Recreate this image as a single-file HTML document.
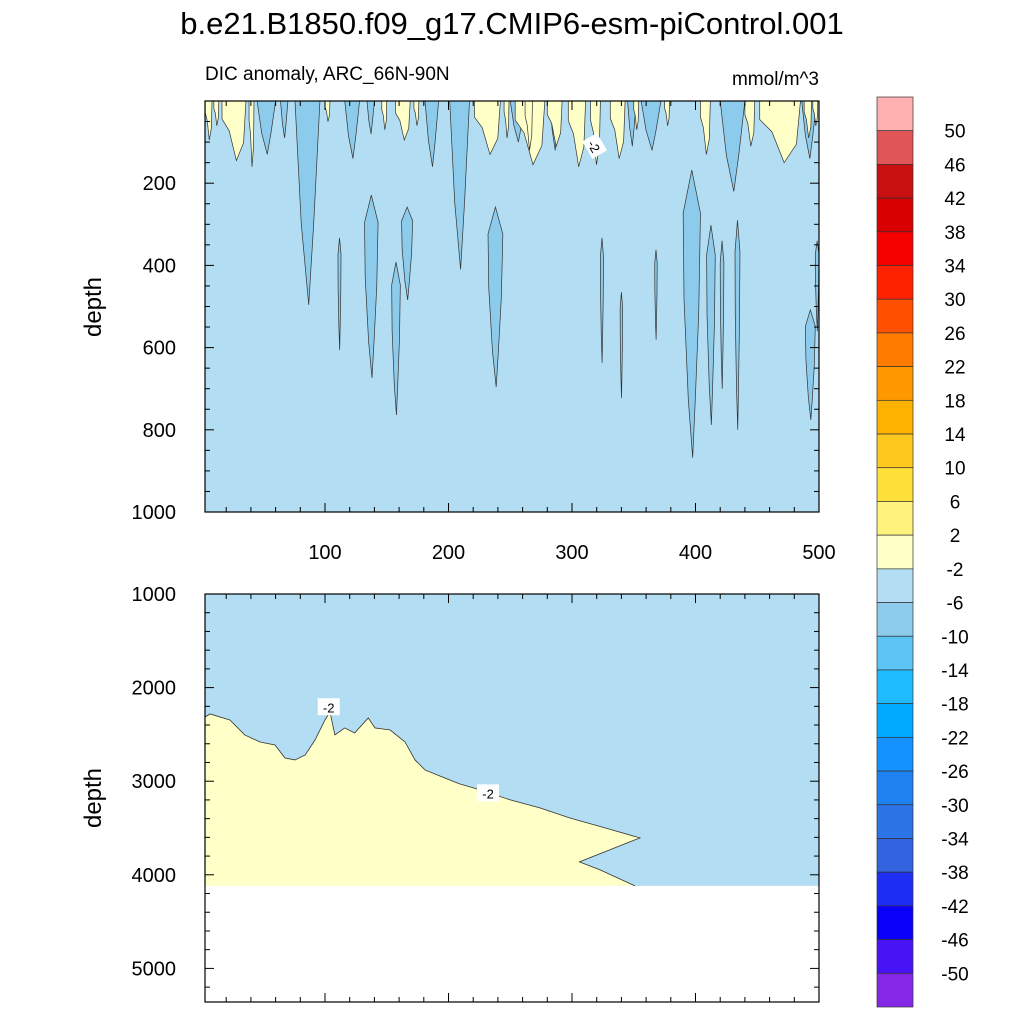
<!DOCTYPE html>
<html><head><meta charset="utf-8"><style>
body{margin:0;background:#fff;}
svg text{font-family:"Liberation Sans",sans-serif;fill:#000;}
</style></head><body>
<svg id="c" width="1024" height="1024" xmlns="http://www.w3.org/2000/svg">
<text x="512" y="34" font-size="31" text-anchor="middle">b.e21.B1850.f09_g17.CMIP6-esm-piControl.001</text>
<text x="205" y="80" font-size="19">DIC anomaly, ARC_66N-90N</text>
<text x="819" y="85" font-size="19" text-anchor="end">mmol/m^3</text>
<text transform="translate(101,307) rotate(-90)" font-size="24" text-anchor="middle">depth</text>
<text transform="translate(101,798) rotate(-90)" font-size="24" text-anchor="middle">depth</text>
<g id="topPanel"></g><g id="botPanel"></g><g id="cb"></g>
</svg>
<script>
// ---- data ----
const cbLevels=[50,46,42,38,34,30,26,22,18,14,10,6,2,-2,-6,-10,-14,-18,-22,-26,-30,-34,-38,-42,-46,-50];
const cbColors=["#ffb1b1","#e05656","#c81010","#d80000","#f70000","#ff2200","#ff5000","#ff7c00","#ff9800","#ffb200","#ffc81e","#ffe03a","#fff27c","#ffffc8","#b3ddf2","#8ccbeb","#5cc3f5","#1ebcff","#00aaff","#1492ff","#1e82f0","#2d74e6","#3364e0","#1e2ef4","#0a00fa","#4814f5","#8428e6"];
const topXTicks=[100,200,300,400,500];
const topYTicks=[200,400,600,800,1000];
const botYTicks=[1000,2000,3000,4000,5000];
// yellow spikes [t0,t1,depthBottom]
const yellowSpikes=[[3,8.5,95],[16.6,36,145],[38.5,42.5,160],[157,169,95],[221,242,130],[254,278,155],[297,311,160],[315,323,155],[331,343,140],[404,412,130],[452,485,150],[440,448,110],[262,268,120],[280,292,110],[10,14,60],[100,104,50],[146,150,70],[172,176,60],[245,249,90],[350,354,70],[375,379,60],[488,494,90],[495,499,60]];
// darker blue spikes [t0,t1,depthTop,depthBottom]
const blueSpikes=[[75.7,95.9,0,496],[45,60,0,130],[116,128,0,140],[181,192,0,160],[201,217,0,410],[250,262,0,100],[282,290,0,120],[356,372,0,120],[420,440,0,220],[486,498,0,140],[64,70,0,90],[134,140,0,80],[345,352,0,110],[110.5,113,333,606],[132,143,229,674],[154,161,392,764],[162,171,258,484],[232,244,258,696],[323,325.5,333,637],[339,341,465,723],[367,369,362,581],[390,404,168,868],[409,416,302,788],[420,423,340,700],[432,436,290,800],[489,497,508,776],[497,500,340,560]];
// bottom panel yellow/blue boundary (time, depth)
const bndT=[2.8,6.9,23,35,47.4,59.5,67.6,75.7,84,91.9,100,104,108,116,124,135,140.5,152.6,164.8,172.9,181,193,209,225.7,250,274,298,326.7,355,306,322.7,351];
const bndD=[2314,2282,2346,2506,2581,2613,2752,2773,2720,2560,2346,2260,2506,2431,2485,2324,2431,2452,2581,2773,2880,2944,3029,3093,3200,3285,3392,3499,3606,3862,3947,4118];
const bottomDepth=4118;
// ---- axes ----
const X0=205,X1=819;
const sx=t=>201.5+t*1.235;
const syT=d=>101+d*0.411;
const syB=d=>594+(d-1000)*0.0936;
const NS="http://www.w3.org/2000/svg";
function el(p,tag,a){const e=document.createElementNS(NS,tag);for(const k in a)e.setAttribute(k,a[k]);p.appendChild(e);return e;}
const topG=document.getElementById('topPanel'),botG=document.getElementById('botPanel'),cbG=document.getElementById('cb');
const clip=el(document.getElementById('c'),'clipPath',{id:'tclip'});
el(clip,'rect',{x:X0,y:101,width:X1-X0,height:411});
// top panel
let r=el(topG,'rect',{x:X0,y:101,width:X1-X0,height:411,fill:"#b3ddf2"});


const inner=el(topG,'g',{'clip-path':'url(#tclip)'});
blueSpikes.forEach(s=>{const a=sx(s[0]),b=sx(s[1]),w=b-a,t=syT(s[2]),d=syT(s[3]);
 let pts;
 if(s[2]>0){const h=d-t;pts=[[a+w*0.5,t],[b,t+h*0.15],[b-w*0.1,t+h*0.5],[b-w*0.3,t+h*0.8],[a+w*0.55,d],[a+w*0.3,t+h*0.8],[a+w*0.05,t+h*0.45],[a,t+h*0.15]];}
 else pts=[[a,t],[b,t],[b-w*0.25,t+(d-t)*0.6],[a+w*0.55,d],[a+w*0.25,t+(d-t)*0.6]];
 const p=el(inner,'polygon',{points:pts.map(q=>q.join(',')).join(' '),fill:"#8ccbeb",stroke:"#333",'stroke-width':0.7});
 
 });
yellowSpikes.forEach(s=>{const a=sx(s[0]),b=sx(s[1]),w=b-a,d=syT(s[2]);
 const pts=[[a,101],[b,101],[b-w*0.1,101+(d-101)*0.7],[a+w*0.6,d],[a+w*0.3,101+(d-101)*0.5],[a,101+(d-101)*0.3]];
 const p=el(inner,'polygon',{points:pts.map(q=>q.join(',')).join(' '),fill:"#ffffc8",stroke:"#333",'stroke-width':0.7});
 
 });
let lb=el(topG,'g',{transform:`translate(${sx(318)},${syT(110)}) rotate(60)`});


el(lb,'rect',{x:-10,y:-9,width:20,height:17,fill:"#fff"});
let tt=el(lb,'text',{x:0,y:5,'font-size':13,'text-anchor':'middle'});tt.textContent='-2';
el(topG,'rect',{x:X0,y:101,width:X1-X0,height:411,fill:"none",stroke:"#000",'stroke-width':1.2});
for(let t=20;t<=500;t+=20){const x=sx(t),L=t%100?5:9;el(topG,'line',{x1:x,x2:x,y1:512,y2:512-L,stroke:"#000"});el(topG,'line',{x1:x,x2:x,y1:101,y2:101+L,stroke:"#000"});}
for(let d=50;d<=1000;d+=50){const y=syT(d),L=d%200?5:9;el(topG,'line',{x1:X0,x2:X0+L,y1:y,y2:y,stroke:"#000"});el(topG,'line',{x1:X1,x2:X1-L,y1:y,y2:y,stroke:"#000"});}
topXTicks.forEach(t=>{const e=el(topG,'text',{x:sx(t),y:559,'font-size':20,'text-anchor':'middle'});e.textContent=t;
 
 });
topYTicks.forEach(d=>{const e=el(topG,'text',{x:176,y:syT(d)+7,'font-size':20,'text-anchor':'end'});e.textContent=d;
 
 });
// bottom panel
let br=el(botG,'rect',{x:X0,y:594,width:X1-X0,height:syB(bottomDepth)-594,fill:"#b3ddf2"});


let pts=[[X0,syB(bottomDepth)],[X0,syB(bndD[0])]];
bndT.forEach((t,i)=>pts.push([sx(t),syB(bndD[i])]));
pts.push([sx(bndT[bndT.length-1]),syB(bottomDepth)]);
let yp=el(botG,'polygon',{points:pts.map(q=>q.join(',')).join(' '),fill:"#ffffc8"});


let pl=el(botG,'polyline',{points:bndT.map((t,i)=>sx(t)+','+syB(bndD[i])).join(' '),fill:"none",stroke:"#333",'stroke-width':0.8});


[[103,2210],[232,3130]].forEach(q=>{const g=el(botG,'g',{transform:`translate(${sx(q[0])},${syB(q[1])})`});
 
 
 el(g,'rect',{x:-11,y:-9,width:22,height:17,fill:"#fff"});const e=el(g,'text',{x:0,y:5,'font-size':13,'text-anchor':'middle'});e.textContent='-2';});
el(botG,'rect',{x:X0,y:594,width:X1-X0,height:408,fill:"none",stroke:"#000",'stroke-width':1.2});
for(let t=20;t<=500;t+=20){const x=sx(t),L=t%100?5:9;el(botG,'line',{x1:x,x2:x,y1:1002,y2:1002-L,stroke:"#000"});el(botG,'line',{x1:x,x2:x,y1:594,y2:594+L,stroke:"#000"});}
for(let d=1200;d<=5300;d+=200){const y=syB(d),L=d%1000?5:9;el(botG,'line',{x1:X0,x2:X0+L,y1:y,y2:y,stroke:"#000"});el(botG,'line',{x1:X1,x2:X1-L,y1:y,y2:y,stroke:"#000"});}
botYTicks.forEach(d=>{const e=el(botG,'text',{x:176,y:syB(d)+7,'font-size':20,'text-anchor':'end'});e.textContent=d;
 
 });
// colorbar
const cbTop=97,cbH=910/cbColors.length;
cbColors.forEach((c,i)=>{const e=el(cbG,'rect',{x:877,y:cbTop+i*cbH,width:36,height:cbH,fill:c,stroke:"#333",'stroke-width':0.7});
 
 });
cbLevels.forEach((v,i)=>{const e=el(cbG,'text',{x:955,y:cbTop+(i+1)*cbH+7,'font-size':19,'text-anchor':'middle'});e.textContent=v;
 
 });
</script>
</body></html>
